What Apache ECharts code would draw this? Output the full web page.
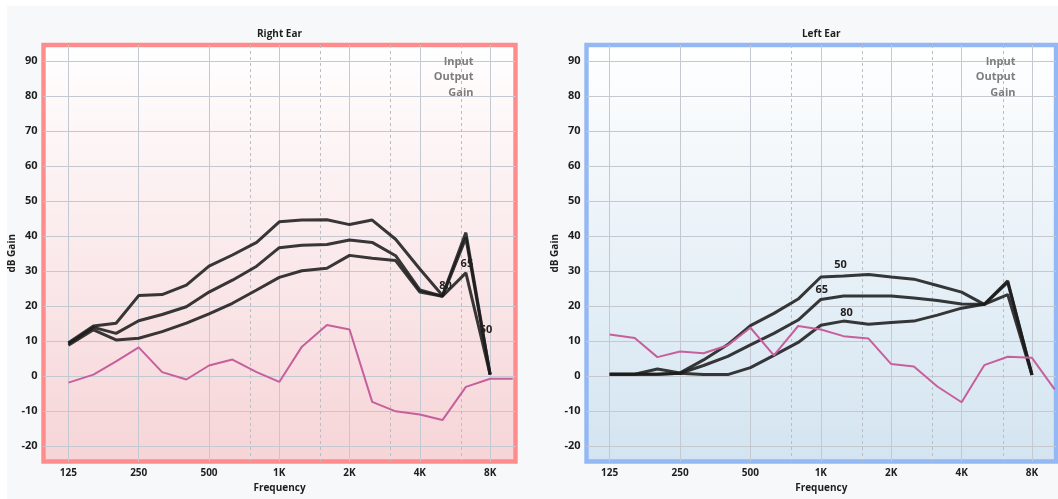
<!DOCTYPE html>
<html><head><meta charset="utf-8">
<script src="https://cdn.jsdelivr.net/npm/echarts@6/dist/echarts.min.js"></script>
<style>
html,body{margin:0;padding:0;background:#fff;}
#bg{position:absolute;left:7px;top:6px;right:0;bottom:0;background:#f7f8fa;}
#chart{position:absolute;left:0;top:0;width:1058px;height:499px;}
</style></head><body><div id="bg"></div><div id="chart"></div>
<script>
// ---- data ----
const freqs = [125,160,200,250,315,400,500,630,800,1000,1250,1600,2000,2500,3150,4000,5000,6300,8000];
const gainFreqs = [125,160,200,250,315,400,500,630,800,1000,1250,1600,2000,2500,3150,4000,5000,6300,8000,10000];
const octaveTicks = [125,250,500,1000,2000,4000,8000];
const midTicks = [750,1500,3000,6000];
const yTicks = [-20,-10,0,10,20,30,40,50,60,70,80,90];
const legendTexts = ['Input','Output','Gain'];

const right50 = [9.5,14.3,15.1,23.0,23.3,26.0,31.4,34.6,38.2,44.1,44.6,44.7,43.3,44.6,39.1,30.6,23.0,41.0,0.4];
const right65 = [9.2,13.9,12.2,15.8,17.6,19.8,24.0,27.4,31.4,36.7,37.4,37.6,38.9,38.2,34.4,24.6,22.8,39.5,0.4];
const right80 = [8.8,13.2,10.3,10.8,12.7,15.1,17.8,20.8,24.6,28.2,30.1,30.8,34.5,33.7,33.0,24.0,22.8,29.5,0.4];
const rightGain = [-1.9,0.4,4.2,8.2,1.1,-1.0,3.0,4.7,1.1,-1.7,8.4,14.6,13.3,-7.4,-10.1,-11.0,-12.6,-3.1,-0.8,-0.8];

const left50 = [0.5,0.5,2.0,0.9,4.6,9.0,14.4,17.9,22.0,28.3,28.6,29.0,28.3,27.7,25.9,24.0,20.5,27.2,0.3];
const left65 = [0.5,0.5,0.5,0.8,3.0,5.6,8.9,12.2,16.0,21.9,22.9,22.9,22.9,22.3,21.6,20.6,20.5,26.8,0.3];
const left80 = [0.5,0.5,0.5,0.8,0.4,0.4,2.4,5.9,9.6,14.5,15.7,14.8,15.3,15.7,17.4,19.4,20.5,23.3,0.3];
const leftGain = [11.9,10.9,5.4,7.0,6.5,8.8,13.8,5.9,14.3,13.3,11.4,10.7,3.4,2.7,-3.0,-7.5,3.1,5.5,5.2,-3.8];

const curveNames = ['50','65','80'];
// index of the point carrying each curve's label
const rightLabelIdx = [18,17,16];
const leftLabelIdx = [10,9,10];

// ---- styling / layout ----
const FONT = "'Open Sans', 'Noto Sans', sans-serif";
const rightLabelOffsets = [[-4,-34],[1,37],[3,0]];
const leftLabelOffsets = [[-3,0],[1,1],[3,3]];

const panels = [
  {title:'Right Ear', left:43.5, width:472, xmin:97.75, xmax:10276, border:'#ff8c8c',
   bg:['#ffffff','#f6d4d7'], curves:[right50,right65,right80], gain:rightGain,
   labelIdx:rightLabelIdx, offsets:rightLabelOffsets, legendX:473.5},
  {title:'Left Ear', left:586.5, width:469.5, xmin:99.5, xmax:10135, border:'#94b8f4',
   bg:['#ffffff','#d3e4f0'], curves:[left50,left65,left80], gain:leftGain,
   labelIdx:leftLabelIdx, offsets:leftLabelOffsets, legendX:1015.5}
];
const TOP = 45, HEIGHT = 416.5, YMIN = -24.45, YMAX = 94.66;

const grids = [], xAxes = [], yAxes = [], series = [], graphics = [];
panels.forEach((p, pi) => {
  grids.push({left:p.left, top:TOP, width:p.width, height:HEIGHT, show:true,
    borderColor:p.border, borderWidth:4.4,
    backgroundColor:{type:'linear',x:0,y:0,x2:0,y2:1,colorStops:[{offset:0,color:p.bg[0]},{offset:1,color:p.bg[1]}]}});
  xAxes.push({type:'log', logBase:2, gridIndex:pi, min:p.xmin, max:p.xmax,
    name:'Frequency', nameLocation:'middle', nameGap:20,
    nameTextStyle:{fontFamily:FONT, fontWeight:'bold', fontSize:10, color:'#1e1e1e'},
    axisLine:{show:false}, axisTick:{show:false, customValues:octaveTicks},
    axisLabel:{customValues:octaveTicks, margin:7, fontFamily:FONT, fontWeight:'bold', fontSize:10, color:'#1e1e1e',
      formatter:v => v >= 1000 ? (v/1000)+'K' : String(v)},
    splitLine:{show:true, lineStyle:{color:'#c4c8d0', width:1}}});
  xAxes.push({type:'log', logBase:2, gridIndex:pi, min:p.xmin, max:p.xmax, position:'top',
    axisLine:{show:false}, axisTick:{show:false, customValues:midTicks},
    axisLabel:{show:false, customValues:midTicks},
    splitLine:{show:true, lineStyle:{color:'#b9bdc6', width:1, type:[3,3]}}});
  yAxes.push({type:'value', gridIndex:pi, min:YMIN, max:YMAX,
    name:'dB Gain', nameLocation:'middle', nameGap:26,
    nameTextStyle:{fontFamily:FONT, fontWeight:'bold', fontSize:10, color:'#1e1e1e'},
    axisLine:{show:false}, axisTick:{show:false, customValues:yTicks},
    axisLabel:{customValues:yTicks, margin:6, fontFamily:FONT, fontWeight:'bold', fontSize:11, color:'#1e1e1e'},
    splitLine:{show:true, lineStyle:{color:'#c4c8d0', width:1}}});
  p.curves.forEach((arr, ci) => {
    series.push({type:'line', xAxisIndex:pi*2, yAxisIndex:pi, symbol:'none', z:3,
      lineStyle:{color:'rgba(28,28,28,0.88)', width:3},
      data: freqs.map((f, i) => i === p.labelIdx[ci] ? {
        value:[f, arr[i]], symbol:'circle', symbolSize:0.5, itemStyle:{color:'#222'},
        label:{show:true, formatter:curveNames[ci], position:'top', distance:5, offset:p.offsets[ci],
          fontFamily:FONT, fontWeight:'bold', fontSize:11, color:'#222'}
      } : [f, arr[i]])});
  });
  series.push({type:'line', xAxisIndex:pi*2, yAxisIndex:pi, symbol:'none', z:4,
    lineStyle:{color:'#c6609d', width:2},
    data: gainFreqs.map((f, i) => [f, p.gain[i]])});
  graphics.push({type:'text', z:100, x:p.left + p.width/2, y:34,
    style:{text:p.title, x:0, y:0, align:'center', verticalAlign:'middle', fill:'#1e1e1e',
      font:'bold 10px ' + FONT}});
  legendTexts.forEach((t, li) => {
    graphics.push({type:'text', z:100, x:p.legendX, y:61.6 + li*15.5,
      style:{text:t, align:'right', verticalAlign:'middle', fill:'#7d7d7d', font:'bold 11px ' + FONT}});
  });
});

const chart = echarts.init(document.getElementById('chart'), null, {renderer:'canvas'});
chart.setOption({
  backgroundColor:'transparent',
  animation:false,
  grid:grids, xAxis:xAxes, yAxis:yAxes, series:series, graphic:graphics
});
</script></body></html>
